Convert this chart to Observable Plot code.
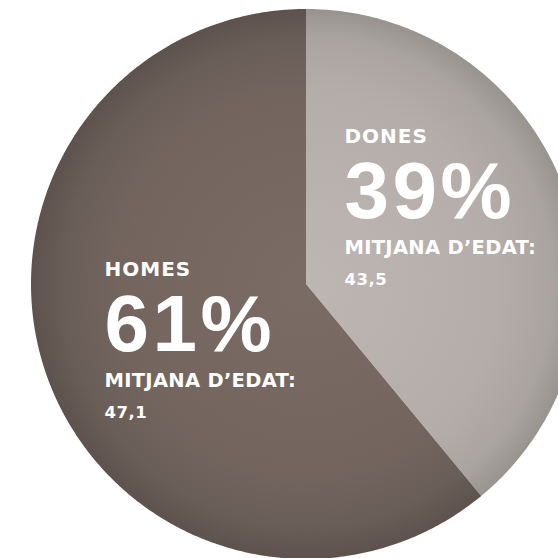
<!DOCTYPE html>
<html><head><meta charset="utf-8">
<script src="https://cdn.jsdelivr.net/npm/d3@7"></script>
<script src="https://cdn.jsdelivr.net/npm/@observablehq/plot@0.6"></script>
<style>html,body{margin:0;padding:0;background:#fff;overflow:hidden}</style>
</head><body><div id="chart"></div>
<script>
// ---- data ----
const groups = ["DONES", "HOMES"];
const shares = [39, 61];
const ageLabel = "MITJANA D’EDAT:";
const ages = ["43,5", "47,1"];

// ---- layout ----
const W = 558, H = 558, R = 275, CX = 305.5, CY = 283.5;
const labelPx = [[344, 142.3], [104, 275]]; // name baseline anchor (px)
const FONT_BIG = "'Liberation Sans', Arial, Helvetica, sans-serif";
const FONT_SMALL = "'DejaVu Sans', Verdana, sans-serif";

const arcs = d3.pie().sort(null).value(d => d.share)(
  groups.map((g, i) => ({group: g, share: shares[i], i}))
);
function slicePts(a) {
  const pts = [{x: 0, y: 0}];
  const n = Math.max(2, Math.ceil((a.endAngle - a.startAngle) / (Math.PI / 360)));
  for (let k = 0; k <= n; k++) {
    const t = a.startAngle + (a.endAngle - a.startAngle) * k / n;
    pts.push({x: Math.sin(t), y: Math.cos(t)});
  }
  pts.push({x: 0, y: 0});
  return pts;
}
const toX = px => (px - CX) / R, toY = py => (CY - py) / R;
const idx = groups.map((g, i) => i);
const lx = i => toX(labelPx[i][0]), ly = i => toY(labelPx[i][1]);

const textBase = {x: lx, y: ly, fill: "white", fontWeight: "bold",
  textAnchor: "start", lineAnchor: "bottom"};

const plot = Plot.plot({
  width: W, height: H, margin: 0,
  x: {domain: [toX(0), toX(W)], axis: null},
  y: {domain: [toY(H), toY(0)], axis: null},
  marks: [
    ...arcs.map((a, i) => Plot.line(slicePts(a), {x: "x", y: "y", fill: `url(#grad${i})`, stroke: "none"})),
    Plot.text(idx, {...textBase, text: i => groups[i], fontSize: 20, fontFamily: FONT_SMALL}),
    Plot.text(idx, {...textBase, text: i => shares[i] + "%", fontSize: 80, dy: 75, fontFamily: FONT_BIG}),
    Plot.text(idx, {...textBase, text: i => ageLabel, fontSize: 19.5, dy: 111, fontFamily: FONT_SMALL}),
    Plot.text(idx, {...textBase, text: i => ages[i], fontSize: 16.5, dy: 142, fontFamily: FONT_SMALL})
  ]
});

const svg = d3.select(plot);
const defs = svg.insert("defs", ":first-child");
const gradStops = [
  [[0, "#bdb6b3"], [0.7, "#b4adaa"], [0.9, "#aaa4a0"], [1, "#99938e"]],
  [[0, "#7a6c64"], [0.65, "#74665f"], [0.88, "#6a5e58"], [1, "#5d524d"]]
];
gradStops.forEach((stops, i) => {
  const g = defs.append("radialGradient").attr("id", "grad" + i)
    .attr("gradientUnits", "userSpaceOnUse").attr("cx", CX).attr("cy", CY).attr("r", R);
  stops.forEach(([o, c]) => g.append("stop").attr("offset", o).attr("stop-color", c));
});
// letter spacing per text mark (marks drawn in order after the two slices)
const spacing = ["1px", "3.5px", "0.3px", "0.5px"];
const textGroups = svg.selectAll("g").filter(function() {
  return this.parentNode === plot && d3.select(this).selectAll("text").size() > 0;
}).nodes();
textGroups.forEach((g, k) => d3.select(g).selectAll("text").style("letter-spacing", spacing[k] || "0px"));
svg.style("overflow", "hidden");
document.getElementById("chart").appendChild(plot);
</script>
</body></html>
